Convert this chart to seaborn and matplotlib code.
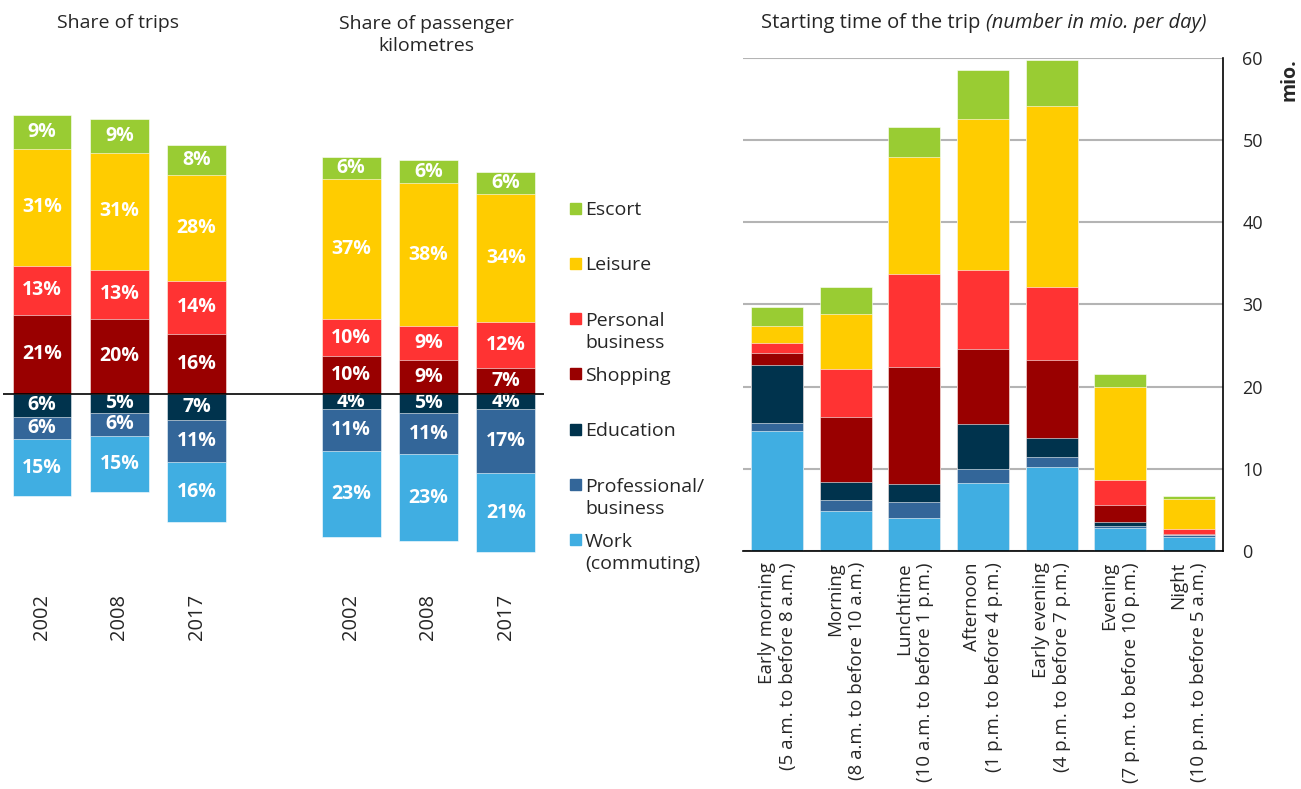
import matplotlib
matplotlib.use("Agg")
import matplotlib.pyplot as plt
from matplotlib.patches import Rectangle
import pandas as pd
import seaborn as sns

# --- DADOS ---
# categorias de baixo para cima na pilha
categorias = ["Work\n(commuting)", "Professional/\nbusiness", "Education", "Shopping",
              "Personal\nbusiness", "Leisure", "Escort"]
cores = ["#40AEE2", "#336699", "#00334D", "#990000", "#FF3333", "#FFCC00", "#99CC33"]

anos = ["2002", "2008", "2017"]
# participação nas viagens (%)
viagens_2002 = [15, 6, 6, 21, 13, 31, 9]
viagens_2008 = [15, 6, 5, 20, 13, 31, 9]
viagens_2017 = [16, 11, 7, 16, 14, 28, 8]
# participação nos passageiros-km (%)
km_2002 = [23, 11, 4, 10, 10, 37, 6]
km_2008 = [23, 11, 5, 9, 9, 38, 6]
km_2017 = [21, 17, 4, 7, 12, 34, 6]

# horário de início da viagem (mio. por dia)
periodos = ["Early morning\n(5 a.m. to before 8 a.m.)", "Morning\n(8 a.m. to before 10 a.m.)",
            "Lunchtime\n(10 a.m. to before 1 p.m.)", "Afternoon\n(1 p.m. to before 4 p.m.)",
            "Early evening\n(4 p.m. to before 7 p.m.)", "Evening\n(7 p.m. to before 10 p.m.)",
            "Night\n(10 p.m. to before 5 a.m.)"]
work = [14.6, 4.9, 4.0, 8.3, 10.2, 2.8, 1.75]
profissional = [1.0, 1.3, 2.0, 1.7, 1.2, 0.3, 0.15]
educacao = [7.0, 2.2, 2.2, 5.4, 2.3, 0.4, 0.1]
compras = [1.5, 7.9, 14.2, 9.2, 9.5, 2.1, 0.1]
pessoal = [1.2, 5.9, 11.3, 9.6, 8.9, 3.0, 0.6]
lazer = [2.1, 6.7, 14.2, 18.4, 22.0, 11.3, 3.6]
acompanhar = [2.3, 3.2, 3.7, 6.0, 5.6, 1.6, 0.45]

# --- CONFIGURAÇÕES ---
sns.set_style("white")
plt.rcParams["font.family"] = ["Open Sans", "DejaVu Sans"]
FS = 14
W, H = 1301, 789

fig = plt.figure(figsize=(W / 100, H / 100), dpi=100)

# 1 ** painel esquerdo: viagens e passageiros-km (barras divergentes)
ax = fig.add_axes([3.4 / W, (H - 563.7) / H, 541 / W, 463.7 / H])
df = pd.DataFrame([viagens_2002, viagens_2008, viagens_2017, km_2002, km_2008, km_2017],
                  columns=categorias)
df["pos"] = [0, 1, 2, 4, 5, 6]

# acima da linha: Shopping, Personal, Leisure, Escort (desenha do maior acumulado para o menor)
for k in [6, 5, 4, 3]:
    acum = df[categorias[3:k + 1]].sum(axis=1)
    sns.barplot(x=df["pos"], y=acum, native_scale=True, color=cores[k], saturation=1,
                width=0.76, errorbar=None, edgecolor="white", linewidth=0.4, ax=ax)
# abaixo da linha: Education, Professional, Work
for k in [0, 1, 2]:
    acum = -df[categorias[k:3]].sum(axis=1)
    sns.barplot(x=df["pos"], y=acum, native_scale=True, color=cores[k], saturation=1,
                width=0.76, errorbar=None, edgecolor="white", linewidth=0.4, ax=ax)

# rótulos de porcentagem
for _, linha in df.iterrows():
    base = 0
    for k in [3, 4, 5, 6]:
        v = linha[categorias[k]]
        ax.text(linha["pos"], base + v / 2, f"{int(v)}%", ha="center", va="center",
                color="white", fontsize=14, fontweight="bold")
        base += v
    base = 0
    for k in [2, 1, 0]:
        v = linha[categorias[k]]
        ax.text(linha["pos"], -(base + v / 2), f"{int(v)}%", ha="center", va="center",
                color="white", fontsize=14, fontweight="bold")
        base += v

ax.axhline(0, color="black", linewidth=1.2, zorder=10)
ax.set_xlim(-0.5, 6.5)
ax.set_ylim(-45, 78)
ax.set_xticks(df["pos"])
ax.set_xticklabels(anos * 2, rotation=90, fontsize=14.5)
ax.tick_params(axis="x", length=0, pad=22)
ax.set_yticks([])
ax.set_xlabel("")
ax.set_ylabel("")
for s in ax.spines.values():
    s.set_visible(False)

fig.text(118 / W, 1 - 23 / H, "Share of trips", ha="center", va="center", fontsize=FS)
fig.text(426 / W, 1 - 35 / H, "Share of passenger\nkilometres", ha="center", va="center",
         multialignment="center", fontsize=FS, linespacing=1.3)

# legenda manual
for i, k in enumerate(range(6, -1, -1)):
    yc = 208 + 55.3 * i
    fig.add_artist(Rectangle((570 / W, 1 - (yc + 5.5) / H), 11 / W, 11 / H,
                             transform=fig.transFigure, color=cores[k]))
    fig.text(585 / W, 1 - (yc - 7) / H, categorias[k], ha="left", va="top",
             fontsize=FS, linespacing=1.3)

# 2 ** painel direito: horário de início
ax2 = fig.add_axes([743 / W, (H - 551) / H, 480 / W, 493 / H])
df_t = pd.DataFrame({categorias[0]: work, categorias[1]: profissional, categorias[2]: educacao,
                     categorias[3]: compras, categorias[4]: pessoal, categorias[5]: lazer,
                     categorias[6]: acompanhar})
df_t["periodo"] = periodos
for k in range(6, -1, -1):
    acum = df_t[categorias[:k + 1]].sum(axis=1)
    sns.barplot(x=df_t["periodo"], y=acum, order=periodos, color=cores[k], saturation=1,
                width=0.76, errorbar=None, edgecolor="white", linewidth=0.4, ax=ax2)

ax2.set_xlim(-0.5, 6.5)
ax2.set_ylim(0, 60)
ax2.set_yticks(range(0, 61, 10))
ax2.yaxis.tick_right()
ax2.yaxis.grid(True, color="#b4b4b4", linewidth=1.5)
ax2.set_axisbelow(True)
ax2.set_xticks(range(7))
ax2.set_xticklabels(periodos, rotation=90, ha="center", va="top", multialignment="right",
                    fontsize=13.5, linespacing=1.25)
ax2.tick_params(axis="x", length=0, pad=8)
ax2.tick_params(axis="y", length=0, pad=14, labelsize=13)
ax2.set_xlabel("")
ax2.set_ylabel("")
ax2.spines["left"].set_visible(False)
ax2.spines["top"].set_visible(False)
ax2.spines["right"].set_color("black")
ax2.spines["bottom"].set_color("black")
ax2.spines["right"].set_linewidth(1.2)
ax2.spines["bottom"].set_linewidth(1.2)

fig.text(1290 / W, 1 - 58 / H, "mio.", rotation=90, ha="center", va="top",
         fontsize=FS, fontweight="bold")

# título com parte em itálico
t1 = fig.text(761 / W, 1 - 23 / H, "Starting time of the trip ", ha="left", va="center",
              fontsize=14.5)
renderer = fig.canvas.get_renderer()
bb = t1.get_window_extent(renderer=renderer)
fig.text(bb.x1 / W, 1 - 23 / H, "(number in mio. per day)", ha="left", va="center",
         fontsize=14.5, style="italic")

fig.savefig("out.png", dpi=100)
